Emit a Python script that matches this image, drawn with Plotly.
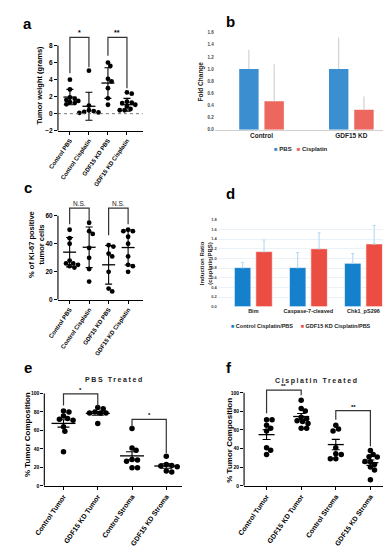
import plotly.graph_objects as go

W, H = 391, 550
FONT = "Liberation Sans"

# ---------------- data ----------------
a_labels = ["Control PBS", "Control Cisplatin", "GDF15 KD PBS", "GDF15 KD Cisplatin"]
a_ctrl_pbs = [4.0, 2.85, 1.9, 1.75, 1.6, 1.5, 1.35, 1.25, 1.1]
a_ctrl_cis = [5.05, 0.95, 0.4, 0.3, 0.2, 0.15, 0.1]
a_kd_pbs = [6.0, 5.6, 4.1, 3.8, 3.0, 1.8, 1.05]
a_kd_cis = [2.5, 2.35, 1.4, 1.3, 1.25, 1.05, 0.85, 0.55, 0.4, 0.4]
a_mean = [1.95, 0.87, 3.6, 1.05]
a_sd = [0.9, 1.65, 1.8, 0.75]
a_sig = [(0, 1, 4.75, 8.96, 5.45, "*"), (2, 3, 6.8, 8.96, 3.0, "**")]

b_groups = ["Control", "GDF15 KD"]
b_pbs = [1.0, 1.0]
b_pbs_err = [0.32, 0.52]
b_cis = [0.47, 0.33]
b_cis_err = [0.61, 0.22]

c_labels = ["Control PBS", "Control Cisplatin", "GDF15 KD PBS", "GDF15 KD Cisplatin"]
c_ctrl_pbs = [50, 44, 40, 28, 26, 26, 25, 24, 23]
c_ctrl_cis = [55, 49, 47, 37, 30, 22, 13]
c_kd_pbs = [39, 38, 33, 31, 20, 8, 6]
c_kd_cis = [50, 49, 49, 45, 40, 31, 25, 24, 20]
c_mean = [34, 37.5, 25, 37.3]
c_sd = [10.5, 14.5, 13.8, 12.5]
c_sig = [(0, 1, 54, 65.4, 56, "N.S."), (2, 3, 46, 65.4, 54, "N.S.")]

d_cats = ["Bim", "Caspase-7-cleaved", "Chk1_pS296"]
d_ctrl = [0.81, 0.81, 0.90]
d_ctrl_err = [0.11, 0.31, 0.20]
d_kd = [1.14, 1.20, 1.30]
d_kd_err = [0.24, 0.33, 0.38]

ef_labels = ["Control Tumor", "GDF15 KD Tumor", "Control Stroma", "GDF15 KD Stroma"]
e_ctrl_tumor = [81, 80, 75.5, 73, 72, 71, 64, 59, 37]
e_kd_tumor = [84.7, 83.6, 80, 79, 79, 79, 67.6]
e_ctrl_stroma = [62, 41, 38.4, 28.5, 27.8, 26.7, 19.6, 19.6]
e_kd_stroma = [32, 23, 22, 21.4, 20.6, 16, 15]
e_mean = [67.6, 78.5, 32.4, 21.4]
e_sem = [4.0, 2.0, 4.5, 2.4]
e_sig = [(0, 1, 87, 99.6, 86, "*"), (2, 3, 64, 72, 35.6, "*")]

f_ctrl_tumor = [71, 71, 65, 62, 59, 40.8, 38.3, 33.7]
f_kd_tumor = [92, 83, 80.5, 73.8, 72, 70, 69, 67, 62, 62]
f_ctrl_stroma = [65, 61, 59, 40.8, 34.4, 33.7, 29, 29]
f_kd_stroma = [38, 33.7, 31.2, 30.9, 25.9, 23, 26, 20.2, 17, 6.4]
f_mean = [55, 74.5, 44.3, 24.8]
f_sem = [5.3, 3.2, 5.6, 2.9]
f_sig = [(0, 1, 78, 102.8, 97.5, "**"), (2, 3, 71, 80.9, 42.5, "**")]

# ---------------- helpers ----------------
def dx(l, r):
    return [l / W, r / W]

def dy(t, b):
    return [1 - b / H, 1 - t / H]

def P(xp, yp):
    return xp / W, 1 - yp / H

def swarm(values, sy, d):
    placed, offs = [], []
    for v in values:
        y = v * sy
        best = None
        for k in range(0, 60):
            for sgn in ([1] if k == 0 else [1, -1]):
                x = sgn * k * d * 0.3
                if all((x - a) ** 2 + (y - b) ** 2 >= d ** 2 for a, b in placed):
                    best = x
                    break
            if best is not None:
                break
        placed.append((best, y))
        offs.append(best)
    return offs

fig = go.Figure()
annotations = []
shapes = []

def bold(size, color="black"):
    return dict(family=FONT, size=size, color=color, weight="bold")

def dot_panel(xa, ya, groups, means, errs, sx, sy, msize, mean_len, cap_half, sig, sigsize, sigbold):
    for i, vals in enumerate(groups):
        offs = swarm(vals, sy, msize * 0.85)
        fig.add_trace(go.Scatter(
            x=[i + o / sx for o in offs], y=vals, mode="markers",
            marker=dict(color="black", size=msize, line=dict(width=0)),
            xaxis=xa, yaxis=ya, showlegend=False, cliponaxis=False, hoverinfo="skip"))
    fig.add_trace(go.Scatter(
        x=list(range(len(means))), y=means, mode="markers",
        marker=dict(symbol="line-ew", size=mean_len / 1.4, color="black",
                    line=dict(width=1.3, color="black")),
        error_y=dict(type="data", array=errs, width=cap_half, thickness=1.1, color="black"),
        xaxis=xa, yaxis=ya, showlegend=False, cliponaxis=False, hoverinfo="skip"))
    for (i, j, yl, top, yr, txt) in sig:
        fig.add_trace(go.Scatter(
            x=[i, i, j, j], y=[yl, top, top, yr], mode="lines",
            line=dict(color="#333333", width=1.2),
            xaxis=xa, yaxis=ya, showlegend=False, cliponaxis=False, hoverinfo="skip"))
        annotations.append(dict(
            x=(i + j) / 2, y=top, xref=xa, yref=ya, text=txt, showarrow=False,
            yanchor="bottom", yshift=-1,
            font=(bold(sigsize) if sigbold else dict(family=FONT, size=sigsize, color="#222"))))

# ---------------- panel a ----------------
dot_panel("x", "y", [a_ctrl_pbs, a_ctrl_cis, a_kd_pbs, a_kd_cis], a_mean, a_sd,
          19.5, 8.6, 4.8, 13, 3.5, a_sig, 7, True)
shapes.append(dict(type="line", xref="x domain", yref="y", x0=0, x1=1, y0=0, y1=0,
                   line=dict(color="#777777", width=1, dash="dot")))
shapes.append(dict(type="line", xref="x domain", yref="y", x0=0, x1=0, y0=-2, y1=8,
                   line=dict(color="black", width=1.1)))

# ---------------- panel c ----------------
dot_panel("x3", "y3", [c_ctrl_pbs, c_ctrl_cis, c_kd_pbs, c_kd_cis], c_mean, c_sd,
          20, 1.417, 4.8, 13, 3.5, c_sig, 6.5, False)
shapes.append(dict(type="line", xref="x3 domain", yref="y3", x0=0, x1=0, y0=0, y1=60,
                   line=dict(color="black", width=1.1)))

# ---------------- panel e ----------------
dot_panel("x5", "y5", [e_ctrl_tumor, e_kd_tumor, e_ctrl_stroma, e_kd_stroma], e_mean, e_sem,
          35.2, 0.933, 5.5, 24, 6, e_sig, 6, True)
shapes.append(dict(type="line", xref="x5 domain", yref="y5", x0=0, x1=0, y0=0, y1=100,
                   line=dict(color="black", width=1.1)))

# ---------------- panel f ----------------
dot_panel("x6", "y6", [f_ctrl_tumor, f_kd_tumor, f_ctrl_stroma, f_kd_stroma], f_mean, f_sem,
          35.5, 0.94, 5.5, 16, 4, f_sig, 6, True)
shapes.append(dict(type="line", xref="x6 domain", yref="y6", x0=0, x1=0, y0=0, y1=100,
                   line=dict(color="black", width=1.1)))

# ---------------- panel b ----------------
B_BLUE, B_RED = "#3B8FD0", "#EC675D"
bw = 20 / 92.5
fig.add_trace(go.Bar(x=[0, 1], y=b_pbs, width=bw, offset=-23 / 92.5, marker=dict(color=B_BLUE, line=dict(width=0)),
                     error_y=dict(type="data", symmetric=False, array=b_pbs_err, arrayminus=[0, 0],
                                  color="#C9C9C9", thickness=1, width=0),
                     xaxis="x2", yaxis="y2", showlegend=False, hoverinfo="skip"))
fig.add_trace(go.Bar(x=[0, 1], y=b_cis, width=bw, offset=3 / 92.5, marker=dict(color=B_RED, line=dict(width=0)),
                     error_y=dict(type="data", symmetric=False, array=b_cis_err, arrayminus=[0, 0],
                                  color="#C9C9C9", thickness=1, width=0),
                     xaxis="x2", yaxis="y2", showlegend=False, hoverinfo="skip"))

# ---------------- panel d ----------------
D_BLUE, D_RED = "#1580CC", "#EC4D42"
dw = 17 / 56.5
fig.add_trace(go.Bar(x=[0, 1, 2], y=d_ctrl, width=dw, offset=-19.5 / 56.5,
                     marker=dict(color=D_BLUE, line=dict(width=1, color="rgba(255,255,255,0.7)")),
                     error_y=dict(type="data", symmetric=False, array=d_ctrl_err, arrayminus=[0, 0, 0],
                                  color="#BCDCF2", thickness=1.2, width=1.5),
                     xaxis="x4", yaxis="y4", showlegend=False, hoverinfo="skip"))
fig.add_trace(go.Bar(x=[0, 1, 2], y=d_kd, width=dw, offset=2.5 / 56.5,
                     marker=dict(color=D_RED, line=dict(width=1, color="rgba(255,255,255,0.7)")),
                     error_y=dict(type="data", symmetric=False, array=d_kd_err, arrayminus=[0, 0, 0],
                                  color="#BCDCF2", thickness=1.2, width=1.5),
                     xaxis="x4", yaxis="y4", showlegend=False, hoverinfo="skip"))

# ---------------- axes ----------------
def dot_x(dom, rng, labels, anchor, size):
    return dict(domain=dom, range=rng, anchor=anchor, showline=True, linecolor="black", linewidth=1.1,
                ticks="outside", ticklen=3, tickwidth=1, tickcolor="black",
                tickvals=list(range(len(labels))), ticktext=labels, tickangle=-55,
                tickfont=bold(size), showgrid=False, zeroline=False, fixedrange=True)

def dot_y(dom, rng, tv, anchor, size):
    return dict(domain=dom, range=rng, anchor=anchor, showline=False,
                ticks="outside", ticklen=3, tickwidth=1, tickcolor="black",
                tickvals=tv, tickfont=bold(size), showgrid=False, zeroline=False, fixedrange=True)

layout = dict(
    width=W, height=H, margin=dict(l=0, r=0, t=0, b=0),
    paper_bgcolor="white", plot_bgcolor="white", showlegend=False, barmode="overlay",
    font=dict(family=FONT, color="black"),
    xaxis=dot_x(dx(41, 128), [-0.63, 3.83], a_labels, "y", 6),
    yaxis=dot_y(dy(19.5, 121), [-2, 9.8], [-2, 0, 2, 4, 6, 8], "x", 6.5),
    xaxis3=dot_x(dx(41, 128), [-0.6, 3.75], c_labels, "y3", 6),
    yaxis3=dot_y(dy(190, 292), [0, 72], [0, 20, 40, 60], "x3", 6.5),
    xaxis5=dot_x(dx(27, 168), [-0.56, 3.45], ef_labels, "y5", 7),
    yaxis5=dot_y(dy(383, 480), [0, 104], [0, 20, 40, 60, 80, 100], "x5", 5),
    xaxis6=dot_x(dx(232, 378), [-0.65, 3.46], ef_labels, "y6", 7),
    yaxis6=dot_y(dy(378.5, 480), [0, 108], [0, 20, 40, 60, 80, 100], "x6", 5),
    xaxis2=dict(domain=dx(202, 390), range=[-0.52, 1.52], anchor="y2", showline=True,
                linecolor="#D0D0D0", linewidth=1, ticks="", tickvals=[0, 1], ticktext=b_groups,
                tickfont=bold(6.5, "#222"), showgrid=False, zeroline=False, fixedrange=True),
    yaxis2=dict(domain=dy(22, 120), range=[0, 1.6], anchor="x2", showline=False, ticks="",
                dtick=0.2, tickformat=".1f", tickfont=bold(4.5, "#444"), showgrid=False,
                zeroline=False, fixedrange=True),
    xaxis4=dict(domain=dx(205, 383), range=[-0.646, 2.504], anchor="y4", showline=False,
                ticks="", tickvals=[0, 1, 2], ticktext=d_cats, tickfont=bold(5.5, "#222"),
                showgrid=False, zeroline=False, fixedrange=True),
    yaxis4=dict(domain=dy(211, 299), range=[0, 1.8], anchor="x4", showline=False, ticks="",
                dtick=0.2, tickformat=".1f", tickfont=bold(4, "#444"), showgrid=True,
                gridcolor="#EAF2F9", gridwidth=1, zeroline=False, fixedrange=True),
)

def ann(xp, yp, text, font, angle=0, xanchor="center", yanchor="middle"):
    x, y = P(xp, yp)
    annotations.append(dict(x=x, y=y, xref="paper", yref="paper", text=text, showarrow=False,
                            textangle=angle, font=font, xanchor=xanchor, yanchor=yanchor))

# panel letters
for (lx, ly, t) in [(10, 13, "a"), (218, 11, "b"), (10, 178, "c"), (218, 185, "d"),
                    (10, 360, "e"), (217, 360, "f")]:
    ann(lx, ly, t, bold(15))

# axis titles
ann(22, 75, "Tumor weight (grams)", bold(7.5), -90)
ann(19, 236, "% of Ki-67 positive<br>tumor cells", bold(7.5), -90)
ann(188, 71, "Fold Change", bold(6.5, "#222"), -90)
ann(193, 255, "Induction Ratio<br>(cisplatin/PBS)", bold(6, "#222"), -90)
ann(10, 428, "% Tumor Composition", bold(8), -90)
ann(217, 434, "% Tumor Composition", bold(8), -90)

# panel titles
ann(99, 373, "<span style='letter-spacing:1.6px'>PBS Treated</span>", bold(7, "#222"))
ann(307, 374, "<span style='letter-spacing:1.6px'>Cisplatin Treated</span>", bold(7, "#222"))

# legends
ann(290, 140, f"<span style='color:{B_BLUE}'>■</span> PBS   <span style='color:{B_RED}'>■</span> Cisplatin",
    bold(6, "#222"))
ann(290, 318, f"<span style='color:{D_BLUE}'>■</span> Control Cisplatin/PBS     "
              f"<span style='color:{D_RED}'>■</span> GDF15 KD Cisplatin/PBS", bold(5.5, "#222"))

layout["annotations"] = annotations
layout["shapes"] = shapes
fig.update_layout(**layout)
fig.write_html("out.html")
